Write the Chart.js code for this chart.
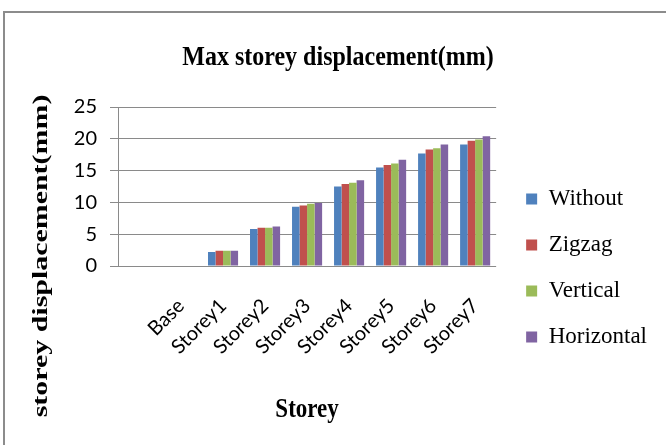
<!DOCTYPE html>
<html>
<head>
<meta charset="utf-8">
<script src="https://cdn.jsdelivr.net/npm/chart.js@4"></script>
<style>
  html, body { margin: 0; padding: 0; background: #ffffff; }
  #wrap { width: 666px; height: 445px; position: relative; }
</style>
</head>
<body>
<div id="wrap"><canvas id="c" width="666" height="445"></canvas></div>
<script>
// Storey labels (the leading blank slot keeps Excel's empty first category)
const categories = ['', 'Base', 'Storey1', 'Storey2', 'Storey3', 'Storey4', 'Storey5', 'Storey6', 'Storey7'];

// Max storey displacement in mm for each bracing type
const withoutBracing = [null, 0, 2.2, 5.8, 9.3, 12.5, 15.5, 17.7, 19.1];
const zigzagBracing = [null, 0, 2.4, 6.0, 9.5, 12.9, 15.9, 18.3, 19.7];
const verticalBracing = [null, 0, 2.4, 6.0, 9.8, 13.1, 16.1, 18.5, 19.9];
const horizontalBracing = [null, 0, 2.4, 6.2, 9.9, 13.5, 16.7, 19.1, 20.4];

const yTicks = [0, 5, 10, 15, 20, 25];

const chartTitle = 'Max storey displacement(mm)';
const xTitle = 'Storey';
const yTitle = 'storey displacement(mm)';

const gridGray = '#8a8a8a';
const serif = '"Liberation Serif", "DejaVu Serif", serif';
const sans = 'Lato, "Open Sans", sans-serif';

// Draws a text string, stretched by sx/sy around its anchor point
function stretchedText(ctx, text, x, y, angle, sx, sy) {
  ctx.save();
  ctx.translate(x, y);
  ctx.rotate(angle);
  ctx.scale(sx, sy);
  ctx.fillText(text, 0, 0);
  ctx.restore();
}

// Frame and free-placed titles, drawn on the canvas
const decorations = {
  id: 'decorations',
  beforeDraw(chart) {
    const ctx = chart.ctx;
    ctx.save();
    ctx.fillStyle = '#ffffff';
    ctx.fillRect(0, 0, chart.width, chart.height);
    ctx.strokeStyle = '#8c8c8c';
    ctx.lineWidth = 2;
    ctx.strokeRect(4, 12, chart.width + 20, chart.height + 20);
    ctx.restore();
  },
  afterDraw(chart) {
    const ctx = chart.ctx;
    const area = chart.chartArea;
    ctx.save();
    ctx.fillStyle = '#000000';
    ctx.textAlign = 'center';
    ctx.textBaseline = 'alphabetic';

    ctx.font = 'bold 24px ' + serif;
    stretchedText(ctx, chartTitle, 338, 65, 0, 1, 1.1);

    ctx.font = 'bold 23px ' + serif;
    stretchedText(ctx, xTitle, (area.left + area.right) / 2, 417, 0, 1, 1.2);

    ctx.font = 'bold 22px ' + serif;
    stretchedText(ctx, yTitle, 47, 256, -Math.PI / 2, 1.36, 1);
    ctx.restore();
  }
};

const series = [
  { label: 'Without', data: withoutBracing, color: '#4F81BD' },
  { label: 'Zigzag', data: zigzagBracing, color: '#C0504D' },
  { label: 'Vertical', data: verticalBracing, color: '#9BBB59' },
  { label: 'Horizontal', data: horizontalBracing, color: '#8064A2' }
];

new Chart(document.getElementById('c'), {
  type: 'bar',
  data: {
    labels: categories,
    datasets: series.map(s => ({
      label: s.label,
      data: s.data,
      backgroundColor: s.color,
      borderWidth: 0,
      categoryPercentage: 0.716,
      barPercentage: 1.0
    }))
  },
  options: {
    responsive: false,
    animation: false,
    devicePixelRatio: 1,
    layout: { padding: { top: 107, left: 0, right: 9, bottom: 16 } },
    plugins: {
      title: { display: false },
      tooltip: { enabled: false },
      legend: {
        position: 'right',
        align: 'center',
        maxWidth: 164,
        labels: {
          font: { family: serif, size: 23 },
          color: '#000000',
          boxWidth: 11,
          boxHeight: 11,
          padding: 23
        }
      }
    },
    scales: {
      x: {
        grid: { display: false, drawTicks: false },
        border: { display: false },
        ticks: {
          font: { family: sans, size: 20 },
          color: '#000000',
          minRotation: 45,
          maxRotation: 45,
          padding: 28,
          autoSkip: false
        },
        afterFit(scale) { scale.height = 163; }
      },
      y: {
        min: 0,
        max: 25,
        afterBuildTicks(scale) { scale.ticks = yTicks.map(v => ({ value: v })); },
        grid: { color: gridGray, lineWidth: 1, drawTicks: true, tickLength: 8 },
        border: { display: true, color: gridGray, width: 1 },
        ticks: {
          font: { family: sans, size: 20 },
          color: '#000000',
          padding: 13
        },
        afterFit(scale) { scale.width = 118; }
      },
      gap: {
        position: 'right',
        display: true,
        grid: { display: false, drawTicks: false },
        border: { display: false },
        ticks: { display: false },
        afterFit(scale) { scale.width = 7; }
      }
    }
  },
  plugins: [decorations]
});
</script>
</body>
</html>
